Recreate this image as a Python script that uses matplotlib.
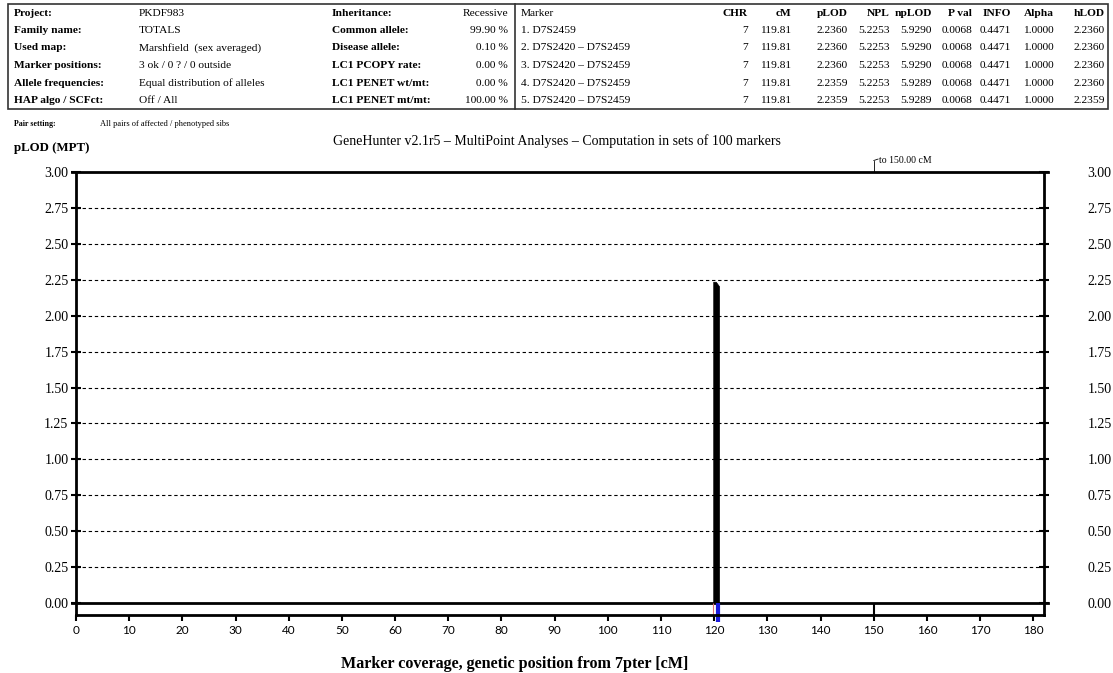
import matplotlib.pyplot as plt
from matplotlib.patches import Rectangle

# header table data
info_labels = ['Project:', 'Family name:', 'Used map:', 'Marker positions:',
               'Allele frequencies:', 'HAP algo / SCFct:']
info_values = ['PKDF983', 'TOTALS', 'Marshfield  (sex averaged)', '3 ok / 0 ? / 0 outside',
               'Equal distribution of alleles', 'Off / All']
model_labels = ['Inheritance:', 'Common allele:', 'Disease allele:', 'LC1 PCOPY rate:',
                'LC1 PENET wt/mt:', 'LC1 PENET mt/mt:']
model_values = ['Recessive', '99.90 %', '0.10 %', '0.00 %', '0.00 %', '100.00 %']

result_header = ['Marker', 'CHR', 'cM', 'pLOD', 'NPL', 'npLOD', 'P val', 'INFO', 'Alpha', 'hLOD']
result_marker = ['1. D7S2459', '2. D7S2420 – D7S2459', '3. D7S2420 – D7S2459',
                 '4. D7S2420 – D7S2459', '5. D7S2420 – D7S2459']
result_chr = [7, 7, 7, 7, 7]
result_cm = [119.81, 119.81, 119.81, 119.81, 119.81]
result_plod = [2.2360, 2.2360, 2.2360, 2.2359, 2.2359]
result_npl = [5.2253, 5.2253, 5.2253, 5.2253, 5.2253]
result_nplod = [5.9290, 5.9290, 5.9290, 5.9289, 5.9289]
result_pval = [0.0068, 0.0068, 0.0068, 0.0068, 0.0068]
result_info = [0.4471, 0.4471, 0.4471, 0.4471, 0.4471]
result_alpha = [1.0000, 1.0000, 1.0000, 1.0000, 1.0000]
result_hlod = [2.2360, 2.2360, 2.2360, 2.2360, 2.2359]

# plot data
peak_cm = [119.81, 120.3, 120.9]
peak_plod = [2.236, 2.236, 2.205]
marker_cm = [119.75, 120.75]
xticks = list(range(0, 181, 10))
yticks = [0.0, 0.25, 0.5, 0.75, 1.0, 1.25, 1.5, 1.75, 2.0, 2.25, 2.5, 2.75, 3.0]
grid_levels = [0.25, 0.5, 0.75, 1.0, 1.25, 1.5, 1.75, 2.0, 2.25, 2.5, 2.75]
range_end_cm = 150.0

W, H = 1113, 673
fig = plt.figure(figsize=(W / 100, H / 100), dpi=100)
serif = 'Liberation Serif'
fs = 8.2


def fx(px):
    return px / W


def fy(py):
    return 1 - py / H


# --- header tables ---
fig.patches.append(Rectangle((fx(8), fy(109)), fx(1108) - fx(8), fy(4) - fy(109),
                             transform=fig.transFigure, fill=False, lw=1.2, ec='#333333'))
fig.lines.append(plt.Line2D([fx(515), fx(515)], [fy(4), fy(109)],
                            transform=fig.transFigure, lw=1.2, color='#333333'))

row_y = [13 + 17.5 * i for i in range(6)]
for i in range(6):
    y = fy(row_y[i])
    fig.text(fx(14), y, info_labels[i], fontsize=fs, family=serif, weight='bold', va='center')
    fig.text(fx(139), y, info_values[i], fontsize=fs, family=serif, va='center')
    fig.text(fx(332), y, model_labels[i], fontsize=fs, family=serif, weight='bold', va='center')
    fig.text(fx(508), y, model_values[i], fontsize=fs, family=serif, va='center', ha='right')

col_right = [None, 748, 791, 848, 890, 932, 972, 1011, 1054, 1105]
fig.text(fx(521), fy(row_y[0]), result_header[0], fontsize=fs, family=serif, va='center')
for c in range(1, 10):
    fig.text(fx(col_right[c]), fy(row_y[0]), result_header[c], fontsize=fs, family=serif,
             weight='bold', va='center', ha='right')

for r in range(5):
    y = fy(row_y[r + 1])
    cells = [str(result_chr[r]), f'{result_cm[r]:.2f}', f'{result_plod[r]:.4f}',
             f'{result_npl[r]:.4f}', f'{result_nplod[r]:.4f}', f'{result_pval[r]:.4f}',
             f'{result_info[r]:.4f}', f'{result_alpha[r]:.4f}', f'{result_hlod[r]:.4f}']
    fig.text(fx(521), y, result_marker[r], fontsize=fs, family=serif, va='center')
    for c, txt in enumerate(cells, start=1):
        fig.text(fx(col_right[c]), y, txt, fontsize=fs, family=serif, va='center', ha='right')

fig.text(fx(14), fy(124), 'Pair setting:', fontsize=5.7, family=serif, weight='bold', va='center')
fig.text(fx(100), fy(124), 'All pairs of affected / phenotyped sibs', fontsize=6,
         family=serif, va='center')
fig.text(fx(557), fy(141), 'GeneHunter v2.1r5 – MultiPoint Analyses – Computation in sets of 100 markers',
         fontsize=10, family=serif, ha='center', va='center')
fig.text(fx(14), fy(148), 'pLOD (MPT)', fontsize=9.3, family=serif, weight='bold', va='center')
fig.text(fx(515), fy(664), 'Marker coverage, genetic position from 7pter [cM]', fontsize=11.6,
         family=serif, weight='bold', ha='center', va='center')

# --- plot area ---
ax = fig.add_axes([fx(76), fy(615), fx(1044) - fx(76), fy(172) - fy(615)])
ax.set_xlim(0, 182)
ax.set_ylim(-0.0835, 3.0)

for side in ['left', 'right', 'bottom']:
    ax.spines[side].set_linewidth(2)
ax.spines['top'].set_visible(False)

ax.hlines(grid_levels, 0, 182, colors='black', linestyles=(0, (3, 2.5)), lw=0.8)
ax.plot([-0.8, 182.8], [3.0, 3.0], color='black', lw=2, clip_on=False)
ax.plot([-0.8, 182.8], [0.0, 0.0], color='black', lw=2, clip_on=False)

ax.fill_between(peak_cm, 0, peak_plod, color='black', lw=0.5, edgecolor='black')

# marker positions below the zero line
ax.vlines(marker_cm[0], -0.0835, 0, colors='#e07070', lw=0.8)
ax.vlines(marker_cm[1], -0.13, 0, colors='#1a1adc', lw=3, clip_on=False)

# analysis range end
ax.vlines(range_end_cm, -0.0835, 0, colors='black', lw=1.5)
ax.plot([range_end_cm, range_end_cm], [3.0, 3.08], color='black', lw=0.6, clip_on=False)
ax.plot([range_end_cm, range_end_cm + 0.8], [3.08, 3.09], color='black', lw=0.6, clip_on=False)
ax.text(range_end_cm + 1.0, 3.08, 'to 150.00 cM', fontsize=7, family=serif, va='center')

ax.set_xticks(xticks)
ax.set_xticklabels([str(t) for t in xticks], family='Lato', fontsize=8.5)
ax.tick_params(axis='x', direction='out', length=4.5, width=1.5, pad=2.5)

ax.set_yticks(yticks)
ax.set_yticklabels([f'{t:.2f}' for t in yticks], family=serif, fontsize=10)
ax.tick_params(axis='y', direction='inout', length=7, width=1.5, pad=2)

ax2 = ax.twinx()
ax2.set_ylim(ax.get_ylim())
ax2.set_yticks(yticks)
ax2.set_yticklabels([f'{t:.2f}' for t in yticks], family=serif, fontsize=10)
ax2.tick_params(axis='y', direction='inout', length=7, width=1.5, pad=28)
for s in ax2.spines.values():
    s.set_visible(False)

fig.savefig('out.png', dpi=100)
